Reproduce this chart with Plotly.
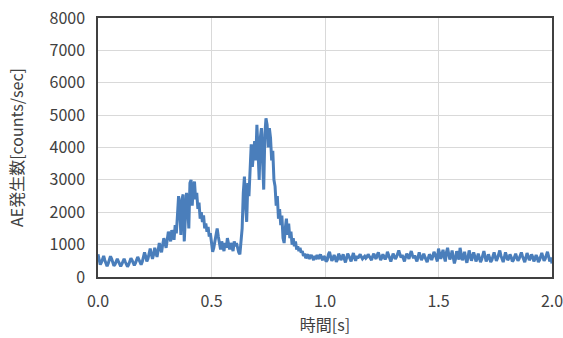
import numpy as np
import plotly.graph_objects as go

step = 0.005
counts = [
    # 0.000-0.095
    700, 520, 380, 450, 600, 650, 520, 380, 330, 420, 560, 640, 560, 420, 350, 390, 500, 560, 480, 380,
    # 0.100-0.195
    330, 400, 520, 560, 470, 370, 320, 380, 500, 580, 520, 410, 360, 430, 560, 620, 540, 420, 380, 470,
    # 0.200-0.295
    620, 760, 640, 480, 560, 780, 880, 700, 560, 700, 900, 760, 620, 820, 1050, 900, 760, 1000, 1200, 1050,
    # 0.300-0.395
    900, 1150, 1400, 1250, 1100, 1450, 1300, 1150, 1600, 1350, 1900, 2500, 2100, 1300, 2400, 2550, 1100, 1800, 2600, 2200,
    # 0.400-0.495
    1500, 2900, 3000, 2200, 2800, 2950, 2400, 2600, 2100, 2300, 1800, 2000, 1700, 1900, 1500, 1650, 1400, 1550, 1250, 1350,
    # 0.500-0.595
    1000, 780, 900, 1150, 1300, 1500, 1250, 1000, 850, 1100, 950, 800, 1050, 900, 1200, 950, 850, 1050, 900, 800,
    # 0.600-0.695
    1100, 950, 1050, 850, 760, 700, 1000, 1500, 2600, 3100, 2200, 1700, 2900, 2500, 3300, 4100, 3400, 3800, 4200, 3600,
    # 0.700-0.795
    4700, 3900, 3000, 4300, 4600, 3600, 2700, 4400, 4900, 4700, 4000, 4600, 4300, 3600, 3900, 3000, 2800, 2200, 2500, 1800,
    # 0.800-0.895
    2100, 1600, 1900, 1200, 1050, 1500, 1800, 1300, 1650, 1200, 1400, 1000, 1200, 950, 1100, 850, 950, 800, 900, 750,
    # 0.900-0.995
    800, 650, 720, 580, 650, 700, 560, 620, 680, 600, 520, 640, 600, 680, 560, 620, 700, 580, 520, 640,
    # 1.000-1.095
    600, 480, 520, 700, 780, 620, 500, 560, 680, 600, 470, 540, 720, 640, 520, 600, 700, 560, 450, 580,
    # 1.100-1.195
    720, 650, 540, 480, 620, 740, 600, 500, 650, 580, 640, 700, 620, 560, 600, 640, 580, 620, 700, 640,
    # 1.200-1.295
    560, 520, 640, 720, 620, 560, 680, 760, 640, 520, 600, 700, 620, 540, 620, 780, 680, 560, 480, 600,
    # 1.300-1.395
    720, 640, 560, 620, 760, 820, 700, 600, 680, 560, 480, 620, 720, 640, 560, 700, 800, 680, 580, 660,
    # 1.400-1.495
    560, 480, 620, 760, 640, 520, 600, 720, 620, 520, 460, 580, 700, 640, 520, 640, 780, 700, 560, 480,
    # 1.500-1.595
    880, 760, 560, 700, 840, 620, 480, 760, 900, 700, 540, 640, 820, 600, 420, 560, 800, 680, 540, 900,
    # 1.600-1.695
    740, 520, 620, 780, 560, 440, 600, 820, 680, 500, 620, 760, 640, 480, 560, 720, 600, 460, 540, 700,
    # 1.700-1.795
    800, 640, 480, 560, 700, 600, 460, 520, 680, 760, 620, 500, 580, 720, 820, 660, 520, 460, 600, 760,
    # 1.800-1.895
    640, 520, 580, 700, 620, 480, 520, 640, 720, 600, 500, 560, 680, 760, 640, 520, 460, 600, 740, 640,
    # 1.900-2.000
    520, 580, 700, 620, 480, 560, 680, 600, 460, 520, 660, 740, 620, 500, 560, 700, 780, 640, 480, 600, 420,
]
times = [round(i * step, 3) for i in range(len(counts))]

x_ticks = [0.0, 0.5, 1.0, 1.5, 2.0]
y_ticks = [0, 1000, 2000, 3000, 4000, 5000, 6000, 7000, 8000]

fig = go.Figure()
fig.add_trace(go.Scatter(x=times, y=counts, mode="lines",
                         line=dict(color="#4a7ebb", width=3), showlegend=False))

font_family = "Noto Sans CJK JP, Noto Sans, sans-serif"
fig.update_layout(
    width=563, height=338,
    margin=dict(l=98, r=11, t=18, b=61),
    paper_bgcolor="white", plot_bgcolor="white",
    font=dict(family=font_family, size=16, color="#404040"),
)
fig.update_xaxes(
    range=[0, 2.0], tickvals=x_ticks, ticktext=[f"{v:.1f}" for v in x_ticks],
    showgrid=True, gridcolor="#d9d9d9", gridwidth=1,
    showline=True, linecolor="#404040", linewidth=1.5, mirror=True,
    zeroline=False, ticks="outside", ticklen=9, tickcolor="rgba(0,0,0,0)",
    tickfont=dict(size=16),
    automargin=False, ticklabeloverflow="allow",
    title=dict(text="時間[s]", font=dict(size=16), standoff=4),
)
fig.update_yaxes(
    range=[0, 8000], tickvals=y_ticks, ticktext=[str(v) for v in y_ticks],
    showgrid=True, gridcolor="#d9d9d9", gridwidth=1,
    showline=True, linecolor="#404040", linewidth=1.5, mirror=True,
    zeroline=False, ticks="outside", ticklen=8, tickcolor="rgba(0,0,0,0)",
    tickfont=dict(size=16),
    automargin=False,
    title=dict(text="AE発生数[counts/sec]", font=dict(size=16), standoff=22),
)
fig.write_html("out.html")
